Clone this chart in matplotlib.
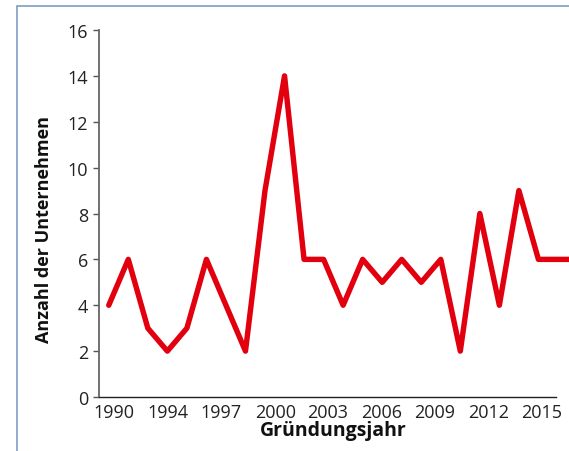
import matplotlib
matplotlib.use("Agg")
import matplotlib.pyplot as plt
from matplotlib.patches import Rectangle

plt.rcParams['font.family'] = ['Open Sans', 'DejaVu Sans']

# Data (category axis)
values = [4, 6, 3, 2, 3, 6, 4, 2, 9, 14, 6, 6, 4, 6, 5, 6, 5, 6, 2, 8, 4, 9, 6, 6, 6]
tick_labels = ["1990", "1994", "1997", "2000", "2003", "2006", "2009", "2012", "2015"]
tick_positions = [0.28, 3.04, 5.75, 8.52, 11.23, 13.99, 16.7, 19.46, 22.17]
y_ticks = [0, 2, 4, 6, 8, 10, 12, 14, 16]

W, H = 569, 452
fig = plt.figure(figsize=(W / 100, H / 100), dpi=100)

# outer chart frame (cropped)
fig.patches.append(Rectangle((17 / W, -0.1), 1.2, 1 - 7 / H + 0.1, transform=fig.transFigure,
                             fill=False, edgecolor='#7f9cc4', linewidth=1.2))

ax = fig.add_axes([99 / W, 1 - 398 / H, (556 - 99) / W, (398 - 31) / H])
x = list(range(len(values)))
ax.plot(x, values, color='#e2000f', linewidth=3.9, solid_joinstyle='round',
        solid_capstyle='round', clip_on=False, zorder=3)

ax.set_xlim(-0.5, 22.9)
ax.set_ylim(0, 16)
ax.set_yticks(y_ticks)
ax.set_yticklabels([str(v) for v in y_ticks], fontsize=13, color='#222222')
ax.set_xticks(tick_positions)
ax.set_xticklabels(tick_labels, fontsize=13, color='#222222')
ax.tick_params(axis='x', length=0, pad=4)
ax.tick_params(axis='y', length=4, width=1, color='#555555', pad=4)

for s in ['top', 'right']:
    ax.spines[s].set_visible(False)
ax.spines['left'].set_color('#666666')
ax.spines['left'].set_linewidth(1.3)
ax.spines['bottom'].set_color('#222222')
ax.spines['bottom'].set_linewidth(1.0)

ax.set_xlabel('Gründungsjahr', fontsize=14, fontweight='bold', color='#111111')
ax.set_ylabel('Anzahl der Unternehmen', fontsize=13, fontweight='bold', color='#111111')
ax.xaxis.set_label_coords(0.512, -0.062)
ax.yaxis.set_label_coords(-0.10, 0.458)

fig.savefig('out.png', dpi=100)
